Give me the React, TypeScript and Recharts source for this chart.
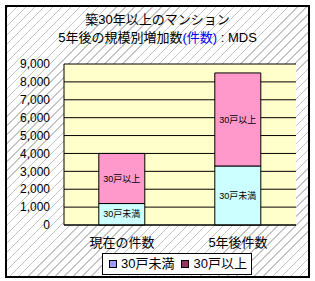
import React from 'react';
import { BarChart, Bar, XAxis, YAxis, CartesianGrid, Legend, LabelList } from 'recharts';

const categories = ['現在の件数', '5年後件数'];
const seriesNames = ['30戸未満', '30戸以上'];
const under30 = [1200, 3300];
const over30 = [2800, 5200];
const yTicks = [0, 1000, 2000, 3000, 4000, 5000, 6000, 7000, 8000, 9000];
const barColors = ['#CCFFFF', '#FF99CC'];
const legendColors = ['#9999FF', '#993366'];

const data = categories.map((name, i) => ({ name, under30: under30[i], over30: over30[i] }));

const FONT = "'Liberation Sans', Arial, 'Noto Sans CJK JP', sans-serif";

const LegendBox = () => (
  <div
    style={{
      boxSizing: 'border-box',
      width: 150,
      height: 22,
      border: '1px solid #000',
      background: '#fff',
      display: 'flex',
      alignItems: 'center',
      paddingLeft: 6,
      fontFamily: FONT,
      fontSize: 13,
      color: '#000',
      whiteSpace: 'nowrap',
      overflow: 'hidden',
    }}
  >
    {seriesNames.map((n, i) => (
      <span key={n} style={{ display: 'flex', alignItems: 'center', marginRight: 7, flexShrink: 0 }}>
        <span
          style={{
            display: 'inline-block',
            width: 6,
            height: 6,
            border: '1px solid #000',
            background: legendColors[i],
            marginRight: 4,
            flexShrink: 0,
          }}
        />
        <span style={{ lineHeight: '16px', whiteSpace: 'nowrap' }}>{n}</span>
      </span>
    ))}
  </div>
);

export default function App() {
  return (
    <div style={{ position: 'absolute', left: 0, top: 0, width: 315, height: 281 }}>
      <div
        style={{
          position: 'absolute',
          left: 5,
          top: 5,
          width: 305,
          height: 273,
          boxSizing: 'border-box',
          border: '2px solid #000',
          backgroundColor: '#fff',
          backgroundImage:
            'repeating-linear-gradient(135deg, #c4c4c4 0px, #c4c4c4 1px, transparent 1px, transparent 6.4px)',
        }}
      />
      <div
        style={{
          position: 'absolute',
          left: 0,
          top: 11,
          width: 315,
          textAlign: 'center',
          fontFamily: FONT,
          fontSize: 13,
          lineHeight: '18px',
          color: '#000',
        }}
      >
        <div>築30年以上のマンション</div>
        <div>
          5年後の規模別増加数<span style={{ color: '#0000FF' }}>(件数)</span> : MDS
        </div>
      </div>
      <div style={{ position: 'absolute', left: 0, top: 0 }}>
        <BarChart
          width={315}
          height={281}
          data={data}
          margin={{ top: 64, right: 19, bottom: 6, left: 0 }}
          barCategoryGap="30%"
          style={{ fontFamily: FONT }}
        >
          <CartesianGrid vertical={false} stroke="#000" fill="#FFFFCC" fillOpacity={1} />
          <XAxis
            dataKey="name"
            height={28}
            tickLine={false}
            tickSize={0}
            tickMargin={13}
            axisLine={{ stroke: '#000' }}
            tick={{ fill: '#000', fontSize: 13 }}
          />
          <YAxis
            width={64}
            domain={[0, 9000]}
            ticks={yTicks}
            interval={0}
            tickFormatter={(v: number) => v.toLocaleString('en-US')}
            tickLine={false}
            tickSize={0}
            tickMargin={14}
            axisLine={{ stroke: '#000' }}
            tick={{ fill: '#000', fontSize: 12 }}
          />
          <YAxis
            yAxisId="r"
            orientation="right"
            width={0}
            tick={false}
            tickLine={false}
            axisLine={{ stroke: '#808080' }}
          />
          <Legend
            verticalAlign="bottom"
            content={() => <LegendBox />}
            wrapperStyle={{ left: 102, bottom: 6, width: 150, height: 22 }}
          />
          <Bar dataKey="under30" name={seriesNames[0]} stackId="a" fill={barColors[0]} stroke="#000" strokeWidth={1} isAnimationActive={false}>
            <LabelList dataKey="under30" position="center" formatter={() => seriesNames[0]} fill="#000" fontSize={9} />
          </Bar>
          <Bar dataKey="over30" name={seriesNames[1]} stackId="a" fill={barColors[1]} stroke="#000" strokeWidth={1} isAnimationActive={false}>
            <LabelList dataKey="over30" position="center" formatter={() => seriesNames[1]} fill="#000" fontSize={9} />
          </Bar>
        </BarChart>
      </div>
    </div>
  );
}
